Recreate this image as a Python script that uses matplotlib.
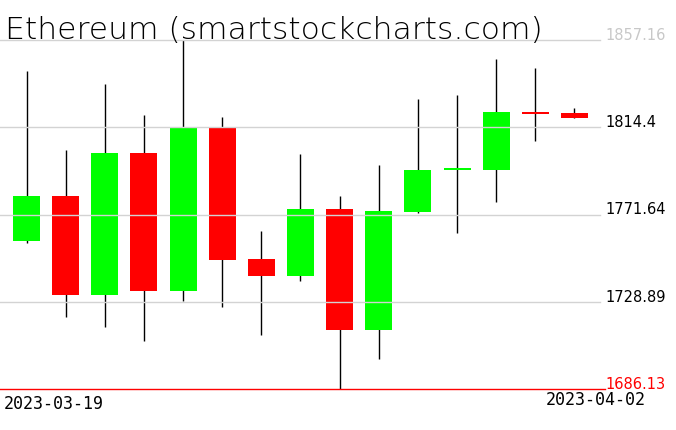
import matplotlib
matplotlib.use("Agg")
import matplotlib.pyplot as plt
import numpy as np
import pandas as pd

# daily candles, Ethereum, 2023-03-19 .. 2023-04-02
dates = pd.date_range("2023-03-19", "2023-04-02", freq="D")
opens = [1758.81, 1780.71, 1732.34, 1801.78, 1734.30, 1814.03, 1749.84, 1741.65,
         1774.34, 1715.19, 1772.87, 1793.45, 1793.60, 1821.88, 1821.39]
highs = [1841.97, 1803.40, 1835.60, 1820.41, 1857.16, 1819.42, 1763.56, 1801.29,
         1780.71, 1795.90, 1828.25, 1830.21, 1847.85, 1843.44, 1823.84]
lows = [1757.83, 1721.56, 1716.66, 1709.80, 1729.40, 1726.16, 1712.74, 1739.20,
        1686.13, 1700.98, 1772.53, 1762.73, 1777.92, 1807.81, 1818.94]
closes = [1780.71, 1732.34, 1801.78, 1734.30, 1814.03, 1749.49, 1741.65, 1774.34,
          1715.19, 1773.36, 1793.45, 1793.70, 1821.88, 1821.04, 1818.94]
price_labels = ["1686.13", "1728.89", "1771.64", "1814.4", "1857.16"]

W, H = 676, 431
fig = plt.figure(figsize=(W / 100, H / 100), dpi=100)
ax = fig.add_axes([0, 0, 1, 1])
ax.set_axis_off()

lo, hi = min(lows), max(highs)
pad = (hi - lo) / 349 * 41
ax.set_ylim(lo - pad, hi + pad)
step = 39.14
ax.set_xlim(-26.5 / step, (W - 26.5) / step)
px_y = (hi - lo + 2 * pad) / H

x = np.arange(len(dates))
o = np.array(opens)
c = np.array(closes)
up = c >= o
colors = np.where(up, "#00ff00", "#ff0000")
bottom = np.minimum(o, c)
height = np.maximum(np.abs(c - o), 2 * px_y)

ax.vlines(x, lows, highs, color="black", linewidth=1.0, zorder=1)
ax.bar(x, height, bottom=bottom, width=27 / step, color=colors, linewidth=0, zorder=2)

# horizontal levels + labels on the right
levels = np.linspace(lo, hi, 5)
for i, (lev, lab) in enumerate(zip(levels, price_labels)):
    if i == 0:
        ax.axhline(lev, xmin=0, xmax=605 / W, color="#ff0000", linewidth=1.0, zorder=4)
        col = "#ff0000"
    else:
        ax.axhline(lev, xmin=0, xmax=600 / W, color="#d3d3d3", linewidth=1.0, zorder=3)
        col = "#c8c8c8" if i == 4 else "black"
    ax.text(605 / W, lev + 1.2 * px_y, lab, transform=ax.get_yaxis_transform(),
            ha="left", va="baseline", fontsize=10.5, color=col, zorder=5)

fig.text(5 / W, 1 - 39 / H, "Ethereum (smartstockcharts.com)", ha="left", va="baseline",
         fontsize=22.6, fontweight="ultralight", family="DejaVu Sans", color="black")

fig.text(4 / W, 1 - 395 / H, dates[0].strftime("%Y-%m-%d"), ha="left", va="top",
         fontsize=12, family="DejaVu Sans Mono", color="black")
fig.text(646 / W, 1 - 391 / H, dates[-1].strftime("%Y-%m-%d"), ha="right", va="top",
         fontsize=12, family="DejaVu Sans Mono", color="black")

fig.savefig("out.png", dpi=100, facecolor="white")
